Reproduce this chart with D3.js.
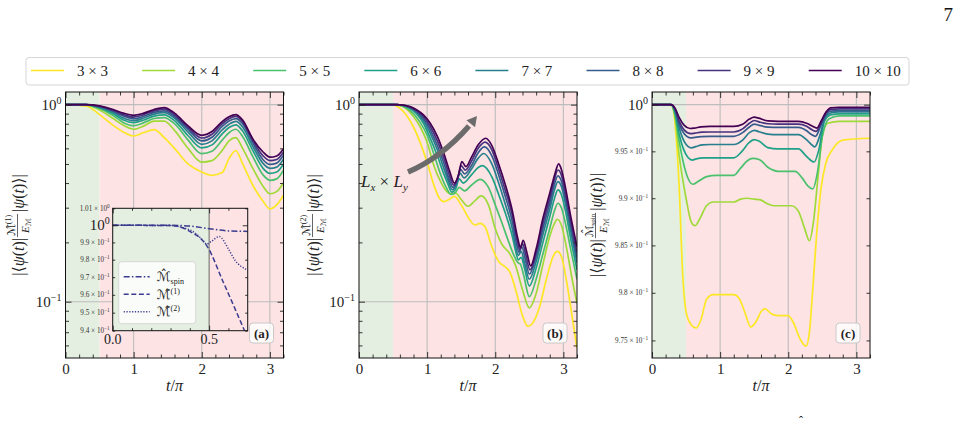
<!DOCTYPE html>
<html><head><meta charset="utf-8">
<script src="https://cdn.jsdelivr.net/npm/d3@7"></script>
<style>body{margin:0;background:#fff}svg{display:block}</style>
</head><body>
<svg id="chart" width="972" height="428"></svg>
<script>
// ---------------- DATA ----------------
const sizeLabels = ["3 × 3","4 × 4","5 × 5","6 × 6","7 × 7","8 × 8","9 × 9","10 × 10"];
const xMajor = [0,1,2,3];
const xMinor = [0.2,0.4,0.6,0.8,1.2,1.4,1.6,1.8,2.2,2.4,2.6,2.8,3.2];
const yMajorAB = [1,0.1];
const yMinorAB = [0.06,0.07,0.08,0.09,0.2,0.3,0.4,0.5,0.6,0.7,0.8,0.9];
const yMajorC = [1];
const yMinorC = [0.975,0.98,0.985,0.99,0.995];
const yMinorCLabels = ["9.75","9.8","9.85","9.9","9.95"];

// panel (a): common time grid
const tA = [0,0.3,0.5,0.7,0.85,1.0,1.15,1.3,1.45,1.6,1.8,2.0,2.15,2.3,2.4,2.5,2.6,2.75,2.9,3.0,3.1,3.2];
const a3  = [1,0.985,0.89,0.785,0.727,0.693,0.722,0.747,0.68,0.60,0.50,0.455,0.438,0.452,0.532,0.585,0.50,0.39,0.323,0.296,0.31,0.347];
const a4  = [1,0.997,0.94,0.85,0.785,0.75,0.78,0.825,0.825,0.74,0.60,0.511,0.52,0.586,0.655,0.68,0.60,0.475,0.385,0.353,0.362,0.40];
const a5  = [1,0.998,0.955,0.88,0.81,0.782,0.81,0.85,0.86,0.80,0.66,0.564,0.58,0.66,0.72,0.75,0.69,0.545,0.44,0.413,0.42,0.465];
const a6  = [1,0.999,0.965,0.90,0.835,0.81,0.835,0.875,0.888,0.83,0.695,0.603,0.625,0.71,0.765,0.79,0.735,0.585,0.475,0.448,0.455,0.5];
const a7  = [1,1,0.972,0.915,0.855,0.829,0.855,0.895,0.91,0.855,0.725,0.629,0.655,0.745,0.795,0.822,0.77,0.615,0.503,0.475,0.482,0.528];
const a8  = [1,1,0.977,0.925,0.875,0.848,0.873,0.913,0.93,0.87,0.748,0.654,0.683,0.775,0.825,0.85,0.80,0.64,0.525,0.497,0.505,0.553];
const a9  = [1,1,0.981,0.935,0.89,0.865,0.89,0.93,0.948,0.888,0.765,0.677,0.708,0.8,0.848,0.872,0.82,0.657,0.55,0.52,0.527,0.575];
const a10 = [1,1,0.985,0.945,0.905,0.883,0.905,0.945,0.966,0.905,0.78,0.699,0.73,0.82,0.868,0.89,0.835,0.67,0.575,0.541,0.549,0.598];

// panel (b): [t, value] points
const b3 = [[0,1],[0.45,1],[0.52,0.995],[0.6,0.96],[0.7,0.88],[0.8,0.77],[0.9,0.64],[1.0,0.51],[1.1,0.39],[1.18,0.335],[1.25,0.322],[1.32,0.33],[1.4,0.342],[1.5,0.31],[1.62,0.262],[1.7,0.245],[1.78,0.25],[1.85,0.24],[1.95,0.19],[2.05,0.16],[2.15,0.15],[2.22,0.14],[2.3,0.115],[2.4,0.085],[2.48,0.075],[2.55,0.078],[2.65,0.094],[2.75,0.13],[2.85,0.17],[2.91,0.18],[2.97,0.17],[3.05,0.125],[3.12,0.088],[3.2,0.058]];
const b4 = [[0,1],[0.5,1],[0.6,0.99],[0.7,0.95],[0.8,0.87],[0.9,0.77],[1.0,0.645],[1.1,0.49],[1.2,0.405],[1.28,0.365],[1.35,0.352],[1.42,0.355],[1.5,0.33],[1.6,0.305],[1.7,0.325],[1.79,0.344],[1.9,0.31],[2.0,0.235],[2.1,0.195],[2.2,0.178],[2.3,0.152],[2.4,0.115],[2.5,0.093],[2.6,0.11],[2.7,0.155],[2.8,0.215],[2.87,0.25],[2.91,0.262],[2.97,0.245],[3.05,0.185],[3.12,0.135],[3.2,0.098]];
const b5 = [[0,1],[0.5,1],[0.6,0.993],[0.7,0.96],[0.8,0.9],[0.9,0.81],[1.0,0.70],[1.1,0.56],[1.2,0.44],[1.28,0.38],[1.35,0.35],[1.42,0.36],[1.47,0.38],[1.55,0.365],[1.65,0.39],[1.78,0.418],[1.9,0.38],[2.0,0.31],[2.1,0.25],[2.2,0.2],[2.28,0.17],[2.33,0.158],[2.37,0.155],[2.42,0.135],[2.5,0.106],[2.6,0.13],[2.7,0.175],[2.8,0.235],[2.87,0.29],[2.92,0.316],[2.97,0.3],[3.03,0.25],[3.1,0.19],[3.2,0.13]];
const b6 = [[0,1],[0.55,1],[0.65,0.99],[0.75,0.955],[0.85,0.895],[0.95,0.8],[1.05,0.67],[1.15,0.55],[1.25,0.44],[1.3,0.4],[1.36,0.36],[1.42,0.375],[1.47,0.42],[1.53,0.4],[1.65,0.44],[1.75,0.48],[1.81,0.49],[1.95,0.43],[2.05,0.35],[2.15,0.28],[2.25,0.215],[2.3,0.18],[2.34,0.163],[2.38,0.168],[2.43,0.148],[2.5,0.12],[2.6,0.148],[2.7,0.2],[2.8,0.27],[2.87,0.335],[2.92,0.369],[2.97,0.35],[3.03,0.29],[3.1,0.215],[3.2,0.145]];
const b7 = [[0,1],[0.55,1],[0.65,0.992],[0.75,0.962],[0.85,0.91],[0.95,0.825],[1.05,0.71],[1.15,0.59],[1.25,0.47],[1.3,0.42],[1.37,0.37],[1.43,0.395],[1.48,0.45],[1.54,0.425],[1.65,0.47],[1.75,0.535],[1.83,0.565],[1.95,0.5],[2.05,0.4],[2.15,0.31],[2.25,0.235],[2.3,0.19],[2.34,0.172],[2.38,0.18],[2.43,0.157],[2.5,0.13],[2.6,0.16],[2.7,0.22],[2.8,0.295],[2.87,0.37],[2.92,0.407],[2.97,0.385],[3.03,0.315],[3.1,0.235],[3.2,0.157]];
const b8 = [[0,1],[0.55,1],[0.65,0.993],[0.75,0.967],[0.85,0.92],[0.95,0.845],[1.05,0.74],[1.15,0.62],[1.25,0.5],[1.31,0.43],[1.38,0.38],[1.44,0.41],[1.49,0.47],[1.55,0.445],[1.65,0.49],[1.75,0.57],[1.84,0.61],[1.95,0.55],[2.05,0.44],[2.15,0.34],[2.25,0.255],[2.31,0.198],[2.35,0.178],[2.39,0.19],[2.44,0.165],[2.5,0.138],[2.6,0.17],[2.7,0.235],[2.8,0.315],[2.87,0.395],[2.92,0.435],[2.97,0.41],[3.03,0.335],[3.1,0.25],[3.2,0.167]];
const b9 = [[0,1],[0.55,1],[0.65,0.994],[0.75,0.972],[0.85,0.93],[0.95,0.865],[1.05,0.77],[1.15,0.655],[1.25,0.53],[1.32,0.445],[1.39,0.39],[1.45,0.425],[1.5,0.49],[1.56,0.465],[1.65,0.515],[1.75,0.6],[1.85,0.645],[1.95,0.59],[2.05,0.47],[2.15,0.365],[2.25,0.275],[2.32,0.205],[2.36,0.183],[2.4,0.197],[2.45,0.172],[2.51,0.145],[2.6,0.178],[2.7,0.25],[2.8,0.335],[2.87,0.42],[2.92,0.466],[2.97,0.44],[3.03,0.355],[3.1,0.265],[3.2,0.178]];
const b10 = [[0,1],[0.55,1],[0.65,0.995],[0.75,0.977],[0.85,0.94],[0.95,0.885],[1.05,0.8],[1.15,0.69],[1.25,0.56],[1.33,0.46],[1.4,0.40],[1.46,0.44],[1.51,0.514],[1.57,0.485],[1.65,0.54],[1.75,0.625],[1.86,0.675],[1.95,0.62],[2.05,0.5],[2.15,0.39],[2.25,0.29],[2.33,0.21],[2.37,0.188],[2.41,0.205],[2.46,0.18],[2.52,0.152],[2.6,0.185],[2.7,0.265],[2.8,0.355],[2.88,0.45],[2.93,0.5],[2.97,0.47],[3.03,0.38],[3.1,0.28],[3.2,0.19]];

// panel (c): [t, value] points
const c3 = [[0,1],[0.25,1],[0.3,0.9998],[0.35,0.997],[0.4,0.991],[0.45,0.982],[0.5,0.978],[0.56,0.9768],[0.65,0.9763],[0.72,0.9772],[0.8,0.9793],[0.9,0.9798],[1.2,0.9798],[1.28,0.9794],[1.36,0.978],[1.45,0.9764],[1.53,0.977],[1.6,0.978],[1.66,0.9783],[1.75,0.9778],[1.85,0.9776],[2.0,0.9776],[2.08,0.9768],[2.17,0.9752],[2.26,0.9744],[2.31,0.9758],[2.36,0.9804],[2.42,0.9865],[2.48,0.991],[2.55,0.9937],[2.65,0.9952],[2.8,0.9962],[3.2,0.9964]];
const c4 = [[0,1],[0.28,1],[0.33,0.999],[0.4,0.9945],[0.5,0.99],[0.57,0.9876],[0.63,0.98708],[0.7,0.9878],[0.8,0.9892],[0.9,0.9896],[1.2,0.9896],[1.3,0.9899],[1.4,0.99],[1.5,0.9899],[1.58,0.98985],[1.7,0.9894],[1.8,0.9892],[2.05,0.9892],[2.15,0.9886],[2.24,0.9868],[2.31,0.98549],[2.37,0.9875],[2.44,0.9925],[2.5,0.9966],[2.58,0.998],[2.75,0.9982],[3.2,0.9982]];
const c5 = [[0,1],[0.28,1],[0.34,0.9988],[0.4,0.996],[0.47,0.9935],[0.53,0.9921],[0.6,0.99149],[0.68,0.9918],[0.8,0.9923],[0.95,0.99244],[1.2,0.99244],[1.3,0.9932],[1.4,0.994],[1.48,0.99424],[1.58,0.9941],[1.7,0.9933],[1.85,0.99287],[2.1,0.99285],[2.2,0.9922],[2.29,0.9913],[2.36,0.991],[2.43,0.9928],[2.5,0.9966],[2.6,0.9985],[2.75,0.9988],[3.2,0.9988]];
const c6 = [[0,1],[0.28,1],[0.34,0.9991],[0.4,0.9968],[0.47,0.9951],[0.59,0.99407],[0.65,0.9942],[0.75,0.9943],[0.85,0.99431],[1.2,0.99431],[1.32,0.995],[1.42,0.9959],[1.5,0.99626],[1.57,0.9961],[1.7,0.9954],[1.85,0.99527],[2.15,0.99527],[2.25,0.9946],[2.32,0.9941],[2.38,0.99386],[2.45,0.9952],[2.53,0.9982],[2.62,0.9989],[2.75,0.99901],[3.2,0.99901]];
const c7 = [[0,1],[0.28,1],[0.34,0.9993],[0.4,0.9975],[0.47,0.9961],[0.58,0.99537],[0.64,0.9955],[0.74,0.9957],[0.85,0.99573],[1.2,0.99573],[1.33,0.9962],[1.43,0.997],[1.5,0.99725],[1.57,0.9971],[1.7,0.99685],[1.85,0.99679],[2.15,0.99679],[2.26,0.9963],[2.33,0.9958],[2.39,0.99548],[2.46,0.9966],[2.54,0.9986],[2.62,0.9991],[2.75,0.99922],[3.2,0.99922]];
const c8 = [[0,1],[0.28,1],[0.34,0.9994],[0.4,0.9979],[0.47,0.9969],[0.57,0.99643],[0.63,0.9965],[0.73,0.99658],[0.85,0.99661],[1.2,0.99661],[1.33,0.997],[1.43,0.9976],[1.5,0.99792],[1.57,0.99778],[1.7,0.9976],[1.85,0.99756],[2.15,0.99756],[2.27,0.9972],[2.34,0.9968],[2.4,0.99661],[2.47,0.9976],[2.55,0.9989],[2.62,0.9993],[2.75,0.99936],[3.2,0.99936]];
const c9 = [[0,1],[0.28,1],[0.34,0.9995],[0.4,0.9982],[0.47,0.9973],[0.57,0.99689],[0.63,0.99695],[0.73,0.99705],[0.85,0.99707],[1.2,0.99707],[1.33,0.9974],[1.43,0.998],[1.5,0.9983],[1.57,0.99815],[1.7,0.99795],[1.85,0.99792],[2.15,0.99792],[2.27,0.99768],[2.35,0.9973],[2.41,0.99714],[2.48,0.998],[2.55,0.9991],[2.62,0.9995],[2.75,0.99954],[3.2,0.99954]];
const c10 = [[0,1],[0.28,1],[0.34,0.9996],[0.4,0.9986],[0.47,0.9978],[0.56,0.99744],[0.62,0.99748],[0.72,0.99762],[0.85,0.99767],[1.2,0.99767],[1.33,0.9979],[1.43,0.99845],[1.5,0.99866],[1.57,0.99855],[1.7,0.99825],[1.85,0.9982],[2.15,0.9982],[2.27,0.998],[2.35,0.9977],[2.42,0.99749],[2.48,0.9982],[2.55,0.99915],[2.62,0.99965],[2.75,0.99972],[3.2,0.99972]];

// inset of (a)
const insetSpin = [[0,1],[0.3,1],[0.4,0.9995],[0.5,0.998],[0.6,0.9967],[0.7,0.9964]];
const insetM1 = [[0,1],[0.3,0.9998],[0.35,0.999],[0.4,0.9964],[0.455,0.9923],[0.488,0.988],[0.574,0.967],[0.682,0.9404],[0.7,0.936]];
const insetM2 = [[0,1],[0.3,0.9998],[0.367,0.9986],[0.436,0.9947],[0.47,0.9909],[0.487,0.989],[0.51,0.9905],[0.553,0.9934],[0.6,0.9862],[0.635,0.9795],[0.661,0.9766],[0.687,0.9747],[0.7,0.974]];
const insetYMinor = [0.94,0.95,0.96,0.97,0.98,0.99,1.01];
const insetYMinorLabels = [["9.4","−1"],["9.5","−1"],["9.6","−1"],["9.7","−1"],["9.8","−1"],["9.9","−1"],["1.01","0"]];
const insetXMajor = [0,0.5];
const insetXMinor = [0.1,0.2,0.3,0.4,0.6];

// ---------------- DRAWING ----------------
const svg = d3.select("#chart");
const serif = "'Liberation Serif','DejaVu Serif',serif";
const MFONT = "'DejaVu Serif','DejaVu Sans',serif";
svg.attr("font-family", serif);
const colors = sizeLabels.map((d,i)=>d3.interpolateViridis(1 - i/7));
const GREEN = "#e4efe1", PINK = "#fde3e4", GRID = "#bdbdbd";
const TOP = 92, BOT = 358;

function rich(sel, parts){
  let shift = 0;
  parts.forEach(p=>{
    const ts = sel.append("tspan").text(p.t);
    const target = p.sup ? -p.sup : (p.sub ? p.sub : 0);
    if (target !== shift){ ts.attr("dy", target - shift); shift = target; }
    if (p.it) ts.attr("font-style","italic");
    if (p.size) ts.attr("font-size", p.size);
    if (p.bold) ts.attr("font-weight","bold");
    if (p.ff) ts.attr("font-family", p.ff);
  });
}

function tickAxis(g, axisFn, scale, vals, size, transform){
  const gg = g.append("g").attr("transform", transform)
    .call(axisFn(scale).tickValues(vals).tickSize(size).tickFormat(""));
  gg.select(".domain").remove();
  gg.selectAll("line").attr("stroke","#222").attr("stroke-width",0.9);
  return gg;
}

let clipN = 0;
function frameTicks(g, x, y, xMaj, xMin, yMaj, yMin, x0, x1, y0, y1, maj=6, mnr=3.5){
  tickAxis(g, d3.axisBottom, x, xMaj, -maj, `translate(0,${y1})`);
  tickAxis(g, d3.axisBottom, x, xMin, -mnr, `translate(0,${y1})`);
  tickAxis(g, d3.axisTop, x, xMaj, -maj, `translate(0,${y0})`);
  tickAxis(g, d3.axisTop, x, xMin, -mnr, `translate(0,${y0})`);
  tickAxis(g, d3.axisLeft, y, yMaj, -maj, `translate(${x0},0)`);
  tickAxis(g, d3.axisLeft, y, yMin, -mnr, `translate(${x0},0)`);
  tickAxis(g, d3.axisRight, y, yMaj, -maj, `translate(${x1},0)`);
  tickAxis(g, d3.axisRight, y, yMin, -mnr, `translate(${x1},0)`);
  g.append("rect").attr("x",x0).attr("y",y0).attr("width",x1-x0).attr("height",y1-y0)
    .attr("fill","none").attr("stroke","#111").attr("stroke-width",1);
}

function panel(o){
  const g = svg.append("g");
  const x = d3.scaleLinear().domain([0,3.2]).range([o.x0,o.x1]);
  const y = d3.scaleLog().domain(o.ydom).range([BOT,TOP]);
  const id = "clip" + (clipN++);
  svg.append("clipPath").attr("id",id).append("rect")
    .attr("x",o.x0).attr("y",TOP).attr("width",o.x1-o.x0).attr("height",BOT-TOP);
  g.append("rect").attr("x",x(0)).attr("y",TOP).attr("width",x(0.5)-x(0)).attr("height",BOT-TOP).attr("fill",GREEN);
  g.append("rect").attr("x",x(0.5)).attr("y",TOP).attr("width",x(3.2)-x(0.5)).attr("height",BOT-TOP).attr("fill",PINK);
  g.append("g").selectAll("line").data([1,2,3]).join("line")
    .attr("x1",d=>x(d)).attr("x2",d=>x(d)).attr("y1",TOP).attr("y2",BOT)
    .attr("stroke",GRID).attr("stroke-width",1.1);
  g.append("g").selectAll("line").data(o.yMaj).join("line")
    .attr("x1",o.x0).attr("x2",o.x1).attr("y1",d=>y(d)).attr("y2",d=>y(d))
    .attr("stroke",GRID).attr("stroke-width",1.1);
  const line = d3.line().x(d=>x(d[0])).y(d=>y(d[1])).curve(d3.curveMonotoneX);
  const cg = g.append("g").attr("clip-path",`url(#${id})`);
  o.series.forEach((s,i)=>{
    cg.append("path").datum(s).attr("d",line).attr("fill","none")
      .attr("stroke",colors[i]).attr("stroke-width",1.7).attr("stroke-linejoin","round");
  });
  frameTicks(g, x, y, xMajor, xMinor, o.yMaj, o.yMin, o.x0, o.x1, TOP, BOT);
  const xl = g.append("g").attr("transform",`translate(0,${BOT})`)
    .call(d3.axisBottom(x).tickValues(xMajor).tickSize(0).tickPadding(5).tickFormat(d3.format("d")));
  xl.select(".domain").remove();
  xl.attr("font-family",serif).attr("font-size",15);
  xl.selectAll("text").attr("fill","#222");
  const xt = g.append("text").attr("x",(o.x0+o.x1)/2).attr("y",391).attr("text-anchor","middle").attr("font-size",16).attr("fill","#222");
  rich(xt,[{t:"t",it:1},{t:"/"},{t:"π",it:1}]);
  o.yMaj.forEach(v=>{
    const t = g.append("text").attr("x",o.x0-4).attr("y",y(v)+5).attr("text-anchor","end").attr("font-size",15).attr("fill","#222");
    rich(t,[{t:"10"},{t: v===1 ? "0" : "−1", sup:6, size:10}]);
  });
  if (o.minorLabels){
    o.yMin.forEach((v,i)=>{
      const t = g.append("text").attr("x",o.x0-4).attr("y",y(v)+2.5).attr("text-anchor","end").attr("font-size",7.2).attr("fill","#333");
      rich(t,[{t:o.minorLabels[i]+" × 10"},{t:"−1",sup:3,size:5.2}]);
    });
  }
  const bx = o.x1-34, by = 323;
  g.append("rect").attr("x",bx).attr("y",by).attr("width",24).attr("height",20).attr("rx",3.5)
    .attr("fill","#fff").attr("fill-opacity",0.8).attr("stroke","#c8c8c8").attr("stroke-width",1);
  g.append("text").attr("x",bx+12).attr("y",by+14.5).attr("text-anchor","middle").attr("font-size",13)
    .attr("font-weight","bold").attr("fill","#222").text(o.tag);
  return {g,x,y};
}

function yTitle(cx, cy, supPart){
  const g = svg.append("g").attr("transform",`translate(${cx},${cy}) rotate(-90)`);
  const inner = g.append("g");
  const t1 = inner.append("text").attr("font-size",16).attr("y",5).attr("fill","#222");
  rich(t1,[{t:"|⟨"},{t:"ψ",it:1},{t:"("},{t:"t",it:1},{t:")|"}]);
  const w1 = t1.node().getComputedTextLength();
  const num = inner.append("text").attr("font-size",11).attr("y",-4.5).attr("fill","#222");
  rich(num,[{t:"ℳ̂",ff:MFONT}, supPart]);
  const den = inner.append("text").attr("font-size",11).attr("y",9.5).attr("fill","#222");
  rich(den,[{t:"E",it:1},{t:"ℳ",sub:2.5,size:7.5,ff:MFONT}]);
  const wn = num.node().getComputedTextLength(), wd = den.node().getComputedTextLength();
  const wf = Math.max(wn,wd);
  num.attr("x", w1+2+(wf-wn)/2);
  den.attr("x", w1+2+(wf-wd)/2);
  inner.append("line").attr("x1",w1+1).attr("x2",w1+wf+3).attr("y1",-1.5).attr("y2",-1.5).attr("stroke","#222").attr("stroke-width",0.7);
  const t3 = inner.append("text").attr("font-size",16).attr("y",5).attr("x",w1+wf+5).attr("fill","#222");
  rich(t3,[{t:"|"},{t:"ψ",it:1},{t:"("},{t:"t",it:1},{t:")⟩|"}]);
  const total = w1+wf+5+t3.node().getComputedTextLength();
  inner.attr("transform",`translate(${-total/2},0)`);
}

const logTop = 1.159, logBot = 0.0518;
panel({x0:65.5,x1:283.5,ydom:[logBot,logTop],yMaj:yMajorAB,yMin:yMinorAB,tag:"(a)",
  series:[a3,a4,a5,a6,a7,a8,a9,a10].map(v=>tA.map((t,i)=>[t,v[i]]))});
panel({x0:359,x1:577,ydom:[logBot,logTop],yMaj:yMajorAB,yMin:yMinorAB,tag:"(b)",
  series:[b3,b4,b5,b6,b7,b8,b9,b10]});
panel({x0:652,x1:870,ydom:[0.97316,1.00136],yMaj:yMajorC,yMin:yMinorC,tag:"(c)",
  minorLabels:yMinorCLabels, series:[c3,c4,c5,c6,c7,c8,c9,c10]});

yTitle(19,225,{t:"(1)",sup:4,size:8});
yTitle(314,225,{t:"(2)",sup:4,size:8});
yTitle(597,225,{t:"spin",sub:2.5,size:7});

// Arrow in (b)
(function(){
  const g = svg.append("g");
  g.append("path").attr("d","M408,172 Q441,158 469,126").attr("fill","none")
    .attr("stroke","#6b6b6b").attr("stroke-width",5.5).attr("stroke-linecap","butt");
  const tip=[477,116], ang=Math.atan2(116-126,477-469);
  const L=10, Wd=5.5;
  const bx=tip[0]-L*Math.cos(ang), by=tip[1]-L*Math.sin(ang);
  const px=-Math.sin(ang)*Wd, py=Math.cos(ang)*Wd;
  g.append("path").attr("d",`M${tip[0]},${tip[1]} L${bx+px},${by+py} L${bx-px},${by-py} Z`).attr("fill","#6b6b6b");
  const t = g.append("text").attr("x",361).attr("y",187).attr("font-size",17).attr("fill","#222");
  rich(t,[{t:"L",it:1},{t:"x",it:1,sub:4,size:11},{t:" × "},{t:"L",it:1},{t:"y",it:1,sub:4,size:11}]);
})();

// Inset in (a)
(function(){
  const ix0=112.7, ix1=247.7, iy0=208.3, iy1=330.7;
  const g = svg.append("g");
  const x = d3.scaleLinear().domain([0,0.7]).range([ix0,ix1]);
  const y = d3.scaleLog().domain([0.94,1.01]).range([iy1,iy0]);
  svg.append("clipPath").attr("id","clipInset").append("rect").attr("x",ix0).attr("y",iy0).attr("width",ix1-ix0).attr("height",iy1-iy0);
  g.append("rect").attr("x",ix0).attr("y",iy0).attr("width",ix1-ix0).attr("height",iy1-iy0).attr("fill","#fff");
  g.append("rect").attr("x",x(0)).attr("y",iy0).attr("width",x(0.5)-x(0)).attr("height",iy1-iy0).attr("fill",GREEN);
  g.append("rect").attr("x",x(0.5)).attr("y",iy0).attr("width",x(0.7)-x(0.5)).attr("height",iy1-iy0).attr("fill",PINK);
  g.append("line").attr("x1",x(0.5)).attr("x2",x(0.5)).attr("y1",iy0).attr("y2",iy1).attr("stroke","#444").attr("stroke-width",0.8);
  const line = d3.line().x(d=>x(d[0])).y(d=>y(d[1])).curve(d3.curveMonotoneX);
  const cg = g.append("g").attr("clip-path","url(#clipInset)");
  const IC = "#3b3b8f";
  const styles = [[insetSpin,"6,2.2,1.5,2.2"],[insetM1,"5,2.6"],[insetM2,"1.2,1.6"]];
  styles.forEach(([s,da])=>{
    cg.append("path").datum(s).attr("d",line).attr("fill","none").attr("stroke",IC).attr("stroke-width",1.5).attr("stroke-dasharray",da);
  });
  frameTicks(g, x, y, insetXMajor, insetXMinor, [1], insetYMinor, ix0, ix1, iy0, iy1, 5, 2.5);
  insetXMajor.forEach(v=>{
    g.append("text").attr("x",x(v)).attr("y",iy1+13.5).attr("text-anchor","middle").attr("font-size",14).attr("fill","#222").text(d3.format(".1f")(v));
  });
  const t0 = g.append("text").attr("x",ix0-3).attr("y",y(1)+5).attr("text-anchor","end").attr("font-size",15).attr("fill","#222");
  rich(t0,[{t:"10"},{t:"0",sup:6,size:10}]);
  insetYMinor.forEach((v,i)=>{
    const t = g.append("text").attr("x",ix0-3).attr("y",y(v)+2.5).attr("text-anchor","end").attr("font-size",7.2).attr("fill","#333");
    rich(t,[{t:insetYMinorLabels[i][0]+" × 10"},{t:insetYMinorLabels[i][1],sup:3,size:5.2}]);
  });
  const lx=118.7, ly=261.7;
  g.append("rect").attr("x",lx).attr("y",ly).attr("width",77).attr("height",62).attr("rx",3)
    .attr("fill","#fff").attr("fill-opacity",0.8).attr("stroke","#cfcfcf").attr("stroke-width",0.8);
  const labs = [{t:"spin",sub:3,size:8},{t:"(1)",sup:5,size:8},{t:"(2)",sup:5,size:8}];
  styles.forEach(([s,da],i)=>{
    const yy = ly + 15 + i*17.5;
    g.append("line").attr("x1",lx+5).attr("x2",lx+31).attr("y1",yy).attr("y2",yy)
      .attr("stroke",IC).attr("stroke-width",1.5).attr("stroke-dasharray",da);
    const t = g.append("text").attr("x",lx+38).attr("y",yy+4.5).attr("font-size",13).attr("fill","#222");
    rich(t,[{t:"ℳ̂",ff:MFONT}, labs[i]]);
  });
})();

// Legend
(function(){
  const g = svg.append("g");
  g.append("rect").attr("x",26).attr("y",57.5).attr("width",883).attr("height",27.5).attr("rx",3)
    .attr("fill","#fff").attr("stroke","#d6d6d6").attr("stroke-width",1);
  const lx = d3.scaleLinear().domain([0,7]).range([31,808.7]);
  sizeLabels.forEach((s,i)=>{
    g.append("line").attr("x1",lx(i)).attr("x2",lx(i)+33).attr("y1",70.5).attr("y2",70.5)
      .attr("stroke",colors[i]).attr("stroke-width",1.7);
    g.append("text").attr("x",lx(i)+46).attr("y",76).attr("font-size",15).attr("fill","#222").text(s);
  });
})();

svg.append("text").attr("x",953).attr("y",21).attr("text-anchor","end").attr("font-size",19).attr("fill","#111").text("7");
svg.append("text").attr("x",799).attr("y",425).attr("font-size",12).attr("fill","#111").text("ˆ");
</script>
</body></html>
